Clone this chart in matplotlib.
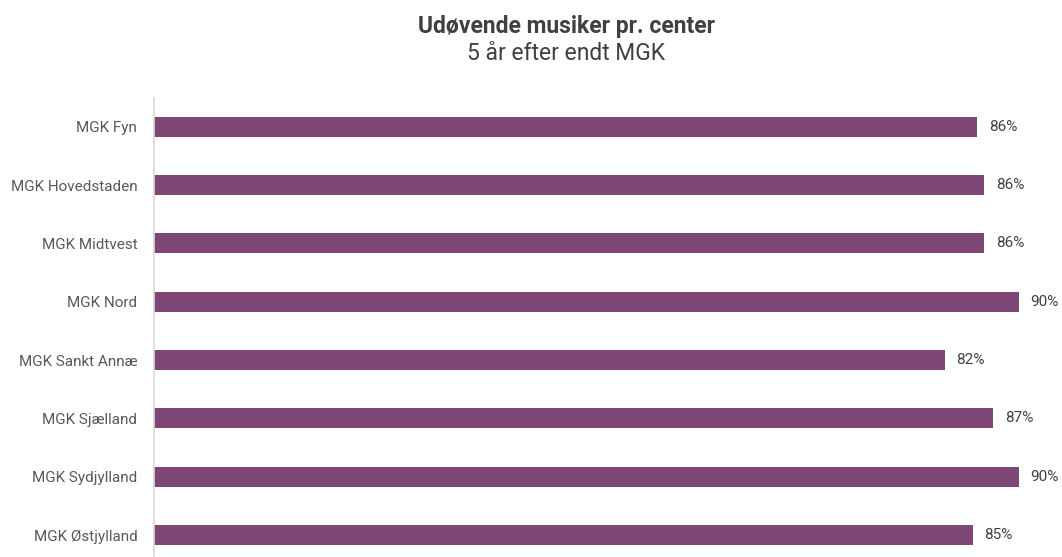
import matplotlib.pyplot as plt

plt.rcParams['font.family'] = ['Roboto', 'DejaVu Sans']

centers = ['MGK Fyn', 'MGK Hovedstaden', 'MGK Midtvest', 'MGK Nord',
           'MGK Sankt Annæ', 'MGK Sjælland', 'MGK Sydjylland', 'MGK Østjylland']
values = [85.7, 86.4, 86.4, 90.0, 82.3, 87.3, 90.0, 85.2]
labels = ['86%', '86%', '86%', '90%', '82%', '87%', '90%', '85%']

W, H = 1062, 557
fig = plt.figure(figsize=(W / 100, H / 100), dpi=100)

# axes placed in pixels: left edge 154, rows 58.33 px apart, first bar centre at 126.7
row = 58.33
top = 126.7 - row / 2
bottom = top + row * len(centers)
left, right = 154, 1030
ax = fig.add_axes([left / W, 1 - bottom / H, (right - left) / W, (bottom - top) / H])

ypos = list(range(len(centers)))
ax.barh(ypos, values, height=0.343, color='#7F4776')
ax.set_ylim(len(centers) - 0.5, -0.5)
ax.set_xlim(0, (right - left) / 9.607)

for y, v, t in zip(ypos, values, labels):
    ax.annotate(t, (v, y), xytext=(8.6, 0), textcoords='offset points', va='center', ha='left',
                fontsize=11, color='#404040', annotation_clip=False)

ax.set_yticks(ypos)
ax.set_yticklabels(centers, fontsize=11, color='#595959')
ax.tick_params(axis='y', length=0, pad=12)
ax.set_xticks([])
for s in ['top', 'right', 'bottom']:
    ax.spines[s].set_visible(False)
ax.spines['left'].set_color('#D9D9D9')
ax.spines['left'].set_linewidth(1.2)

fig.text(566 / W, 1 - 33.3 / H, 'Udøvende musiker pr. center', ha='center', va='baseline',
         fontsize=16.5, fontweight='bold', color='#404040')
fig.text(566 / W, 1 - 60 / H, '5 år efter endt MGK', ha='center', va='baseline',
         fontsize=16.5, color='#404040')

fig.savefig('out.png', facecolor='white')
